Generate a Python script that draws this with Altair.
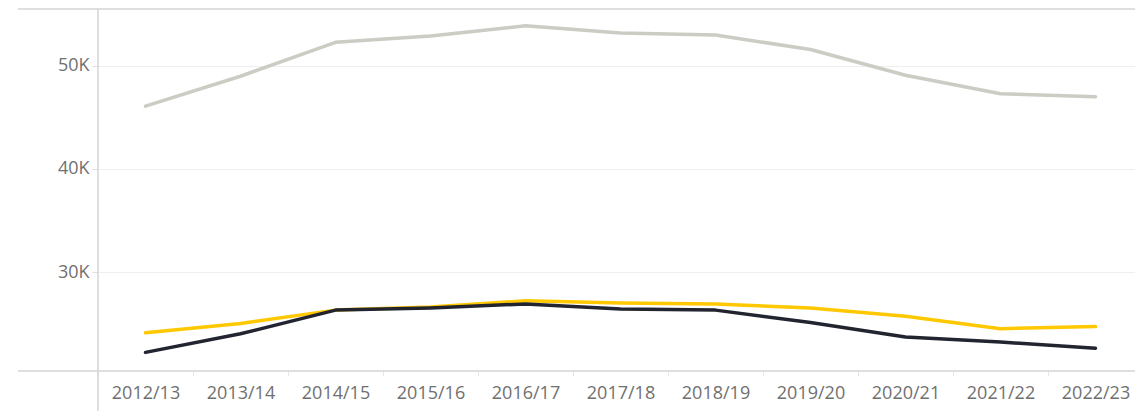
import altair as alt
import pandas as pd

years = ["2012/13", "2013/14", "2014/15", "2015/16", "2016/17", "2017/18",
         "2018/19", "2019/20", "2020/21", "2021/22", "2022/23"]
series_names = ["Series A", "Series B", "Series C"]
series_a = [46100, 49000, 52300, 52900, 53900, 53200, 53000, 51600, 49100, 47300, 47000]
series_b = [24100, 25000, 26300, 26600, 27200, 27000, 26900, 26500, 25700, 24500, 24700]
series_c = [22200, 24000, 26300, 26500, 26900, 26400, 26300, 25100, 23700, 23200, 22600]
colors = ["#cbccc3", "#ffc800", "#22252f"]
y_ticks = [30000, 40000, 50000]

rows = []
for name, vals in zip(series_names, [series_a, series_b, series_c]):
    for y, v in zip(years, vals):
        rows.append({"year": y, "value": v, "series": name})
df = pd.DataFrame(rows)

FONT = "Open Sans"
LABEL_COLOR = "#707070"

lines = alt.Chart(df).mark_line(strokeWidth=3.5, strokeJoin="round", strokeCap="round").encode(
    x=alt.X("year:N", sort=years, bandPosition=0.5,
            scale=alt.Scale(type="band", range=[0, 1045], paddingInner=0, paddingOuter=0),
            axis=alt.Axis(title=None, labelAngle=0, domain=False, tickBand="extent",
                          ticks=True, tickSize=5, tickColor="#e6e6e6",
                          labelPadding=8, labelFont=FONT, labelFontSize=18,
                          labelColor=LABEL_COLOR, grid=False)),
    y=alt.Y("value:Q", scale=alt.Scale(domain=[20390, 55530], nice=False, zero=False),
            axis=alt.Axis(title=None, values=y_ticks, labelExpr="datum.value / 1000 + 'K'",
                          domain=False, ticks=True, tickSize=6, tickColor="#e0e0e0",
                          labelPadding=3, labelFont=FONT, labelFontSize=18,
                          labelColor=LABEL_COLOR, grid=True, gridColor="#efefef",
                          gridWidth=1)),
    color=alt.Color("series:N", scale=alt.Scale(domain=series_names, range=colors), legend=None),
)

one = alt.InlineData(values=[{"a": 1}])
top_rule = alt.Chart(one).mark_rule(color="#d4d4d4", strokeWidth=1.5).encode(
    x=alt.value(-80), x2=alt.value(1045), y=alt.value(0))
bottom_rule = alt.Chart(one).mark_rule(color="#d4d4d4", strokeWidth=1.5).encode(
    x=alt.value(-80), x2=alt.value(1045), y=alt.value(362))
yaxis_rule = alt.Chart(one).mark_rule(color="#d4d4d4", strokeWidth=1.5).encode(
    x=alt.value(0), y=alt.value(0), y2=alt.value(410))

chart = alt.layer(lines, top_rule, bottom_rule, yaxis_rule).properties(
    width=1037, height=362,
    autosize=alt.AutoSizeParams(type="none"),
    padding={"left": 90, "top": 1, "right": 0, "bottom": 40},
).configure_view(stroke=None)

chart.save("out.html", embed_options={"renderer": "svg", "actions": False})
